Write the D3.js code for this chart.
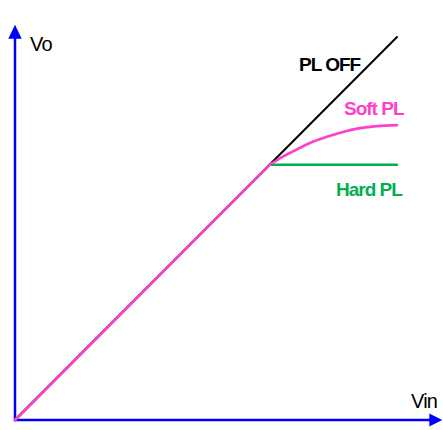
<!DOCTYPE html>
<html>
<head>
<meta charset="utf-8">
<script src="https://cdn.jsdelivr.net/npm/d3@7"></script>
<style>
  html, body { margin: 0; padding: 0; background: #fff; }
  svg { display: block; }
  text { font-family: "Liberation Sans", Arial, sans-serif; }
</style>
</head>
<body>
<svg id="chart" width="443" height="430"></svg>
<script>
// Transfer curves: output voltage vs input voltage (normalised units)
const plOffVin = [0, 1.5];
const plOffVo  = [0, 1.5];

const hardVin = [0, 1.0, 1.5];
const hardVo  = [0, 1.0, 1.0];

const softLinearVin = [0, 1.0];
const softLinearVo  = [0, 1.0];
const softKneeVin = [1.0, 1.045, 1.092, 1.158, 1.225, 1.288, 1.355, 1.421, 1.5];
const softKneeVo  = [1.0, 1.028, 1.052, 1.085, 1.109, 1.128, 1.143, 1.151, 1.155];

// Axis extents (arrow tips)
const axisMaxVin = 1.678;
const axisMaxVo = 1.548;

const svg = d3.select("#chart");

const x = d3.scaleLinear().domain([0, 1.5]).range([15, 397]);
const y = d3.scaleLinear().domain([0, 1.5]).range([420, 37]);

const zip = (a, b) => a.map((v, i) => [v, b[i]]);
const lineLin = d3.line().x(d => x(d[0])).y(d => y(d[1]));
const lineSmooth = d3.line().x(d => x(d[0])).y(d => y(d[1])).curve(d3.curveCatmullRom.alpha(0.5));

const blue = "#0000ff";
const black = "#000000";
const magenta = "#ff3fcc";
const green = "#00b050";

// Axes with arrowheads
const axes = svg.append("g");
axes.append("line")
  .attr("x1", x(0)).attr("y1", y(0))
  .attr("x2", x(axisMaxVin) - 10).attr("y2", y(0))
  .attr("stroke", blue).attr("stroke-width", 2.5);
axes.append("path")
  .attr("d", `M${x(axisMaxVin)},${y(0)} L${x(axisMaxVin) - 13},${y(0) - 6.5} L${x(axisMaxVin) - 13},${y(0) + 6.5} Z`)
  .attr("fill", blue);
axes.append("line")
  .attr("x1", x(0)).attr("y1", y(0) + 1.25)
  .attr("x2", x(0)).attr("y2", y(axisMaxVo) + 10)
  .attr("stroke", blue).attr("stroke-width", 2.5);
axes.append("path")
  .attr("d", `M${x(0)},${y(axisMaxVo)} L${x(0) - 6.7},${y(axisMaxVo) + 14} L${x(0) + 6.7},${y(axisMaxVo) + 14} Z`)
  .attr("fill", blue);

// Curves
const curves = svg.append("g").attr("fill", "none").attr("stroke-linecap", "round");
curves.append("path")
  .attr("d", lineLin(zip(plOffVin, plOffVo)))
  .attr("stroke", black).attr("stroke-width", 2);
curves.append("path")
  .attr("d", lineLin(zip(hardVin, hardVo)))
  .attr("stroke", green).attr("stroke-width", 2.5);
curves.append("path")
  .attr("d", lineLin(zip(softLinearVin, softLinearVo)))
  .attr("stroke", magenta).attr("stroke-width", 2.6);
curves.append("path")
  .attr("d", lineSmooth(zip(softKneeVin, softKneeVo)))
  .attr("stroke", magenta).attr("stroke-width", 2.6);

// Labels
const labels = svg.append("g");
labels.append("text").attr("x", 30).attr("y", 51)
  .attr("font-size", 20).attr("letter-spacing", -0.8).attr("fill", "#000").text("Vo");
labels.append("text").attr("x", 411).attr("y", 408)
  .attr("font-size", 20).attr("letter-spacing", -0.8).attr("fill", "#000").text("Vin");
labels.append("text").attr("x", 299).attr("y", 71)
  .attr("font-size", 19).attr("font-weight", "bold").attr("letter-spacing", -1)
  .attr("fill", black).text("PL OFF");
labels.append("text").attr("x", 344).attr("y", 115)
  .attr("font-size", 19).attr("font-weight", "bold").attr("letter-spacing", -1)
  .attr("fill", magenta).text("Soft PL");
labels.append("text").attr("x", 336).attr("y", 196)
  .attr("font-size", 19).attr("font-weight", "bold").attr("letter-spacing", -1)
  .attr("fill", green).text("Hard PL");
</script>
</body>
</html>
